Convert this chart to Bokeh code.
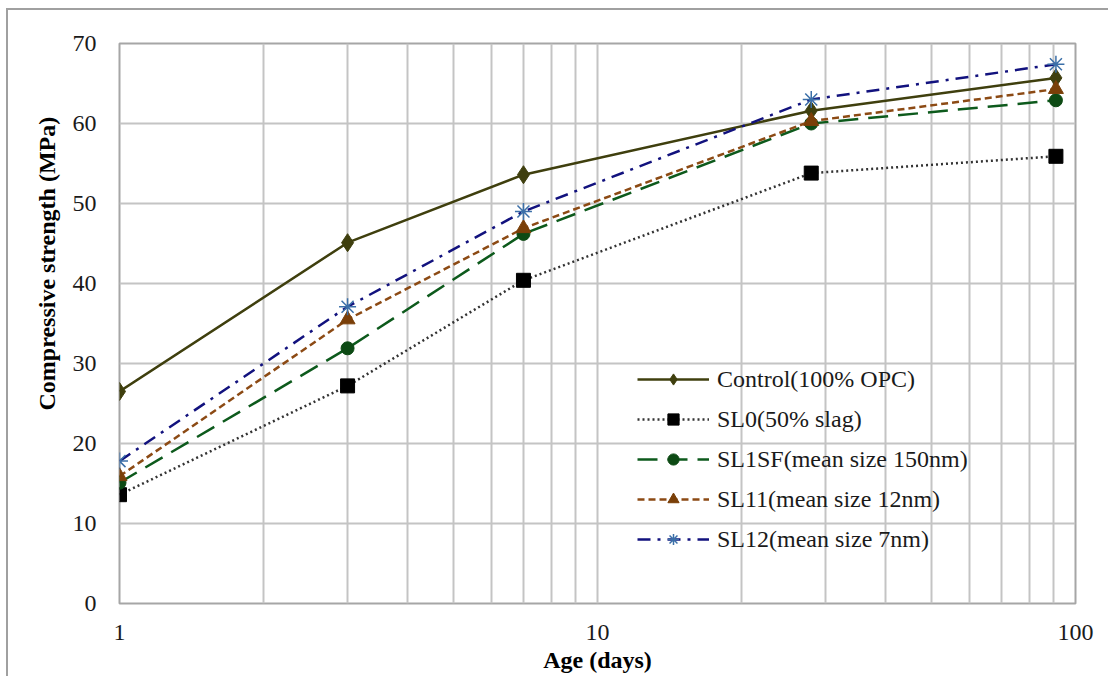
from bokeh.plotting import figure
from bokeh.models import (FixedTicker, Range1d, Legend, LegendItem, Title,
                          InlineStyleSheet)
from bokeh.embed import file_html
from bokeh.resources import INLINE

# Compressive strength of mortar mixes vs curing age
days = [1, 3, 7, 28, 91]
control = [26.5, 45.1, 53.6, 61.6, 65.7]
sl0 = [13.6, 27.2, 40.4, 53.8, 55.9]
sl1sf = [15.1, 31.9, 46.2, 60.0, 62.9]
sl11 = [15.9, 35.5, 46.9, 60.3, 64.3]
sl12 = [17.8, 37.1, 49.0, 63.0, 67.4]

series_names = ["Control(100% OPC)", "SL0(50% slag)", "SL1SF(mean size 150nm)",
                "SL11(mean size 12nm)", "SL12(mean size 7nm)"]

x_major = [1, 10, 100]
x_minor = [2, 3, 4, 5, 6, 7, 8, 9, 20, 30, 40, 50, 60, 70, 80, 90]
y_ticks = [0, 10, 20, 30, 40, 50, 60, 70]

FONT = "Liberation Serif"
GRID = "#c4c4c4"

p = figure(width=1108, height=676, x_axis_type="log",
           x_range=Range1d(1, 100), y_range=Range1d(0, 70),
           output_backend="svg", toolbar_location=None,
           min_border_left=119, min_border_right=33,
           min_border_top=43, min_border_bottom=73)

p.background_fill_color = "white"
p.border_fill_color = "white"
p.outline_line_color = "#a6a6a6"
p.outline_line_width = 2

p.xaxis.ticker = FixedTicker(ticks=x_major, minor_ticks=x_minor)
p.yaxis.ticker = FixedTicker(ticks=y_ticks)
p.xaxis.major_label_overrides = {1: "1", 10: "10", 100: "100"}

for ax in (p.xaxis, p.yaxis):
    ax.axis_line_color = None
    ax.major_tick_line_color = None
    ax.minor_tick_line_color = None
    ax.major_label_text_font = FONT
    ax.major_label_text_font_size = "24px"
    ax.major_label_text_color = "#1a1a1a"

p.yaxis.major_label_standoff = 17
p.xaxis.major_label_standoff = 15

p.xaxis.axis_label = "Age (days)"
p.xaxis.axis_label_text_font = FONT
p.xaxis.axis_label_text_font_size = "24px"
p.xaxis.axis_label_text_font_style = "bold"
p.xaxis.axis_label_text_color = "black"
p.xaxis.axis_label_standoff = 4

p.add_layout(Title(text="Compressive strength (MPa)", align="left", offset=193,
                   text_font=FONT, text_font_size="24px", text_font_style="bold",
                   text_color="black", standoff=19), "left")

p.xgrid.grid_line_color = GRID
p.xgrid.grid_line_width = 2
p.xgrid.minor_grid_line_color = GRID
p.xgrid.minor_grid_line_width = 2
p.ygrid.grid_line_color = GRID
p.ygrid.grid_line_width = 2

# line + marker per mix
styles = [
    (control, "#3f3f0e", "solid", "diamond", "#3f3f0e", 18),
    (sl0, "#333333", "2 3", "square", "black", 14),
    (sl1sf, "#0d5a1c", "20 10", "circle", "#0d4a14", 13),
    (sl11, "#8c4a14", "7 4", "triangle", "#7a3f08", 15),
    (sl12, "#12127e", "13 7 3 7", "asterisk", "#3b6fa8", 17),
]

items = []
for name, (vals, lc, dash, mk, mc, sz) in zip(series_names, styles):
    r_line = p.line(days, vals, line_color=lc, line_width=2.5, line_dash=dash)
    r_mark = p.scatter(days, vals, marker=mk, size=sz, fill_color=mc,
                       line_color=mc, line_width=1.5 if mk == "asterisk" else 1)
    items.append(LegendItem(label=name, renderers=[r_line, r_mark]))

legend = Legend(items=items, location=(518, 50), padding=0, margin=0,
                spacing=12, glyph_width=72, glyph_height=28, label_height=28,
                label_standoff=8, background_fill_alpha=0,
                border_line_color=None, label_text_font=FONT,
                label_text_font_size="24px", label_text_color="#1a1a1a")
p.add_layout(legend, "center")

# thin frame around the whole chart area
p.stylesheets = [InlineStyleSheet(css="""
:host { position: relative; }
:host::after {
  content: ""; position: absolute; left: 6px; top: 8px;
  width: 1200px; height: 800px;
  border: 2px solid #a0a0a0; pointer-events: none; z-index: 10;
}
""")]

open("out.html", "w").write(file_html(p, INLINE))
